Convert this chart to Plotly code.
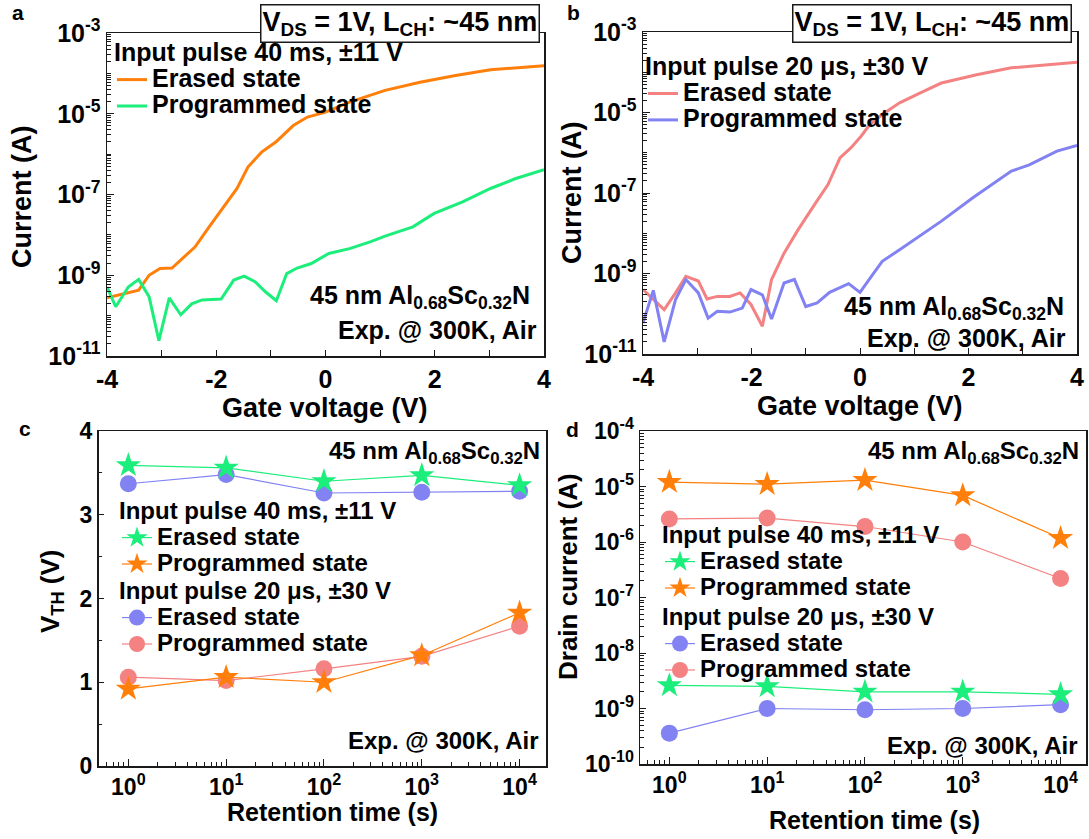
import plotly.graph_objects as go

W, H = 1089, 839

# ---------------- data ----------------
# panel a: 40 ms, +/-11 V pulses
a_vg_erased = [-4.00, -3.42, -3.23, -3.03, -2.81, -2.65, -2.39, -2.13, -1.87, -1.62, -1.42,
               -1.17, -0.91, -0.59, -0.33, 0.00, 0.44, 1.09, 1.73, 2.38, 3.02, 4.00]
a_id_erased = [2.75e-10, 4.27e-10, 1.0e-9, 1.48e-9, 1.51e-9, 2.34e-9, 5.0e-9, 1.58e-8, 4.9e-8,
               1.41e-7, 4.8e-7, 1.12e-6, 2.0e-6, 5.1e-6, 8.3e-6, 1.10e-5, 1.95e-5, 3.8e-5,
               6.0e-5, 8.9e-5, 1.23e-4, 1.55e-4]
a_vg_prog = [-4.00, -3.84, -3.61, -3.42, -3.23, -3.05, -2.86, -2.65, -2.45, -2.26, -1.91, -1.68,
             -1.49, -1.29, -1.10, -0.90, -0.71, -0.52, -0.26, 0.06, 0.44, 0.83, 1.09, 1.60,
             1.99, 2.51, 3.02, 3.47, 4.00]
a_id_prog = [5.1e-10, 1.66e-10, 5.1e-10, 7.9e-10, 2.95e-10, 2.4e-11, 2.75e-10, 1.05e-10, 1.95e-10,
             2.45e-10, 2.57e-10, 7.6e-10, 9.5e-10, 6.9e-10, 3.9e-10, 2.34e-10, 1.10e-9, 1.51e-9,
             1.95e-9, 3.47e-9, 4.57e-9, 6.8e-9, 9.3e-9, 1.58e-8, 3.4e-8, 6.6e-8, 1.41e-7,
             2.45e-7, 4.1e-7]

# panel b: 20 us, +/-30 V pulses
b_vg_erased = [-4.00, -3.61, -3.40, -3.21, -2.98, -2.82, -2.63, -2.40, -2.21, -2.01, -1.80, -1.63,
               -1.40, -1.14, -0.82, -0.59, -0.37, -0.17, 0.02, 0.18, 0.41, 0.73, 1.18, 1.50,
               2.15, 2.79, 4.00]
b_id_erased = [4.0e-10, 1.26e-10, 3.3e-10, 8.5e-10, 6.5e-10, 2.34e-10, 2.7e-10, 2.7e-10, 3.3e-10,
               1.7e-10, 4.9e-11, 7.1e-10, 3.2e-9, 1.23e-8, 5.6e-8, 1.62e-7, 7.4e-7, 1.32e-6,
               2.57e-6, 5.0e-6, 8.9e-6, 1.74e-5, 3.4e-5, 5.4e-5, 8.7e-5, 1.29e-4, 1.78e-4]
b_vg_prog = [-4.00, -3.81, -3.61, -3.40, -3.21, -2.98, -2.80, -2.63, -2.40, -2.17, -2.01, -1.80,
             -1.63, -1.40, -1.21, -1.00, -0.79, -0.56, -0.21, 0.00, 0.21, 0.41, 0.73, 1.18,
             1.50, 2.08, 2.47, 2.79, 3.12, 3.63, 4.00]
b_id_prog = [5.9e-11, 3.8e-10, 2.0e-11, 2.24e-10, 7.1e-10, 3.3e-10, 7.8e-11, 1.15e-10, 1.1e-10,
             1.38e-10, 4.0e-10, 2.95e-10, 7.4e-11, 5.8e-10, 7.1e-10, 1.51e-10, 1.86e-10, 3.4e-10,
             5.6e-10, 3.4e-10, 8.5e-10, 2.0e-9, 3.9e-9, 1.02e-8, 2.0e-8, 7.6e-8, 1.78e-7,
             3.5e-7, 5.0e-7, 1.10e-6, 1.51e-6]

# panels c, d: retention
ret_time = [1, 10, 100, 1000, 10000]
vth_40ms_erased = [3.59, 3.56, 3.40, 3.47, 3.35]
vth_40ms_prog = [0.92, 1.06, 1.00, 1.32, 1.83]
vth_20us_erased = [3.37, 3.48, 3.26, 3.27, 3.28]
vth_20us_prog = [1.06, 1.02, 1.16, 1.31, 1.67]

id_40ms_erased = [2.6e-9, 2.5e-9, 2.0e-9, 2.0e-9, 1.8e-9]
id_40ms_prog = [1.2e-5, 1.1e-5, 1.3e-5, 6.9e-6, 1.17e-6]
id_20us_erased = [3.6e-10, 1.0e-9, 0.95e-9, 1.0e-9, 1.17e-9]
id_20us_prog = [2.6e-6, 2.7e-6, 1.9e-6, 1.0e-6, 2.2e-7]

title_40ms = "Input pulse 40 ms, \u00b111 V"
title_20us = "Input pulse 20 \u03bcs, \u00b130 V"
name_erased = "Erased state"
name_prog = "Programmed state"
material = "45 nm Al<sub>0.68</sub>Sc<sub>0.32</sub>N"
cond = "Exp. @ 300K, Air"
bias_box = "V<sub>DS</sub> = 1V, L<sub>CH</sub>: ~45 nm"

vg_major = [-4, -2, 0, 2, 4]
vg_minor = [-3, -1, 1, 3]
exp_ab_major = [-11, -9, -7, -5, -3]
exp_d_major = [-10, -9, -8, -7, -6, -5, -4]
exp_t_major = [0, 1, 2, 3, 4]
vth_major = [0, 1, 2, 3, 4]

# ---------------- styling ----------------
ORANGE = "#FF7F0A"
GREEN = "#1CEE7C"
RED = "#F48282"
BLUE = "#8282F2"
AXC = "#1a1a1a"
FONT = "Liberation Sans, Arial, sans-serif"


def px(x):
    return x / W


def py(y):
    return 1 - y / H


def big(t, s):
    return '<span style="font-size:%dpx">%s</span>' % (s, t)


fig = go.Figure()

# panel a
fig.add_trace(go.Scatter(x=a_vg_erased, y=a_id_erased, mode="lines", name=big(name_erased, 25),
                         line=dict(color=ORANGE, width=3), xaxis="x", yaxis="y", legend="legend"))
fig.add_trace(go.Scatter(x=a_vg_prog, y=a_id_prog, mode="lines", name=big(name_prog, 25),
                         line=dict(color=GREEN, width=3), xaxis="x", yaxis="y", legend="legend"))
# panel b
fig.add_trace(go.Scatter(x=b_vg_erased, y=b_id_erased, mode="lines", name=big(name_erased, 25),
                         line=dict(color=RED, width=3), xaxis="x2", yaxis="y2", legend="legend2"))
fig.add_trace(go.Scatter(x=b_vg_prog, y=b_id_prog, mode="lines", name=big(name_prog, 25),
                         line=dict(color=BLUE, width=3), xaxis="x2", yaxis="y2", legend="legend2"))

# panels c and d
for ax_x, ax_y, lg1, lg2, e40, p40, e20, p20 in [
    ("x3", "y3", "legend3", "legend4", vth_40ms_erased, vth_40ms_prog, vth_20us_erased, vth_20us_prog),
    ("x4", "y4", "legend5", "legend6", id_40ms_erased, id_40ms_prog, id_20us_erased, id_20us_prog),
]:
    fig.add_trace(go.Scatter(x=ret_time, y=e20, mode="lines+markers", name=big(name_erased, 24),
                             line=dict(color=BLUE, width=1.2),
                             marker=dict(symbol="circle", size=17, color=BLUE),
                             xaxis=ax_x, yaxis=ax_y, legend=lg2))
    fig.add_trace(go.Scatter(x=ret_time, y=p20, mode="lines+markers", name=big(name_prog, 24),
                             line=dict(color=RED, width=1.2),
                             marker=dict(symbol="circle", size=17, color=RED),
                             xaxis=ax_x, yaxis=ax_y, legend=lg2))
    fig.add_trace(go.Scatter(x=ret_time, y=e40, mode="lines+markers", name=big(name_erased, 24),
                             line=dict(color=GREEN, width=1.2),
                             marker=dict(symbol="star", size=19, color=GREEN),
                             xaxis=ax_x, yaxis=ax_y, legend=lg1))
    fig.add_trace(go.Scatter(x=ret_time, y=p40, mode="lines+markers", name=big(name_prog, 24),
                             line=dict(color=ORANGE, width=1.2),
                             marker=dict(symbol="star", size=19, color=ORANGE),
                             xaxis=ax_x, yaxis=ax_y, legend=lg1))

# ---------------- axes ----------------
common = dict(showline=True, linecolor=AXC, linewidth=1.5, mirror=True, ticks="inside",
              tickcolor=AXC, tickwidth=1, showgrid=False, zeroline=False, automargin=False,
              tickfont=dict(family=FONT, size=25, color="black", weight="bold"))


def sup(e):
    return "10<sup>%d</sup>" % e


minor_ab = ([k * 10.0 ** e for e in range(-11, -3) for k in range(2, 10)]
            + [10.0 ** e for e in range(-10, -3, 2)])

for xa, ya, dx, dy in [("xaxis", "yaxis", (107, 544), (33, 356)),
                       ("xaxis2", "yaxis2", (643, 1077), (32, 354))]:
    fig.update_layout(**{
        xa: dict(common, domain=[px(dx[0]), px(dx[1])], range=[-4, 4], tickmode="array",
                 tickvals=vg_major, ticktext=[str(v) for v in vg_major], ticklen=6,
                 minor=dict(ticks="inside", ticklen=6, tickwidth=1, tickcolor=AXC,
                            tickmode="array", tickvals=vg_minor, showgrid=False),
                 anchor=ya.replace("axis", "")),
        ya: dict(common, domain=[py(dy[1]), py(dy[0])], type="log", range=[-11, -3],
                 tickmode="array", tickvals=[10.0 ** e for e in exp_ab_major],
                 ticktext=[sup(e) for e in exp_ab_major], ticklen=7,
                 minor=dict(ticks="inside", ticklen=4, tickwidth=1, tickcolor=AXC,
                            tickmode="array", tickvals=minor_ab, showgrid=False),
                 anchor=xa.replace("axis", "")),
    })

minor_t = [k * 10.0 ** e for e in range(-1, 5) for k in range(2, 10)]
cd_font = dict(family=FONT, size=23, color="black", weight="bold")

fig.update_layout(
    xaxis3=dict(common, domain=[px(98.5), px(546)], type="log", range=[-0.305, 4.27],
                tickmode="array", tickvals=[10 ** e for e in exp_t_major],
                ticktext=[sup(e) for e in exp_t_major], ticklen=7, tickfont=cd_font,
                minor=dict(ticks="inside", ticklen=4, tickwidth=1, tickcolor=AXC,
                           tickmode="array", tickvals=minor_t, showgrid=False),
                anchor="y3"),
    yaxis3=dict(common, domain=[py(766), py(431)], range=[0, 4], tickmode="array",
                tickvals=vth_major, ticktext=[str(v) for v in vth_major], ticklen=5,
                tickfont=cd_font,
                minor=dict(ticks="inside", ticklen=3, tickwidth=1, tickcolor=AXC, dtick=0.5,
                           showgrid=False),
                anchor="x3"),
    xaxis4=dict(common, domain=[px(640), px(1086)], type="log", range=[-0.30, 4.26],
                tickmode="array", tickvals=[10 ** e for e in exp_t_major],
                ticktext=[sup(e) for e in exp_t_major], ticklen=7, tickfont=cd_font,
                minor=dict(ticks="inside", ticklen=4, tickwidth=1, tickcolor=AXC,
                           tickmode="array", tickvals=minor_t, showgrid=False),
                anchor="y4"),
    yaxis4=dict(common, domain=[py(764), py(431)], type="log", range=[-10, -4],
                tickmode="array", tickvals=[10.0 ** e for e in exp_d_major],
                ticktext=[sup(e) for e in exp_d_major], ticklen=6,
                tickfont=cd_font,
                minor=dict(ticks="inside", ticklen=3.5, tickwidth=1, tickcolor=AXC,
                           tickmode="array",
                           tickvals=[k * 10.0 ** e for e in range(-10, -4) for k in range(2, 10)],
                           showgrid=False),
                anchor="x4"),
)

# ---------------- legends ----------------
def leg(x, y, title, size, tsize=18):
    return dict(x=px(x), y=py(y), xanchor="left", yanchor="top", bgcolor="rgba(0,0,0,0)",
                borderwidth=0, font=dict(family=FONT, size=18, color="black", weight="bold"),
                title=dict(text=big(title, size),
                           font=dict(family=FONT, size=tsize, color="black", weight="bold")),
                itemclick=False, tracegroupgap=0)


fig.update_layout(
    legend=leg(112, 38, title_40ms, 25),
    legend2=leg(643, 48, title_20us, 25, tsize=21),
    legend3=leg(117, 496, title_40ms, 24),
    legend4=leg(117, 576, title_20us, 24),
    legend5=leg(660, 520, title_40ms, 24),
    legend6=leg(660, 602, title_20us, 24),
)

# ---------------- annotations ----------------
ann = []


def text(x, y, t, size=24, xanchor="center", angle=0):
    ann.append(dict(x=px(x), y=py(y), xref="paper", yref="paper", text=t, showarrow=False,
                    xanchor=xanchor, yanchor="middle", textangle=angle,
                    font=dict(family=FONT, size=size, color="black", weight="bold")))


# panel letters
text(18, 13, "a", 21)
text(573, 13, "b", 21)
text(25, 428, "c", 21)
text(572, 429, "d", 21)

# axis titles
text(22, 197, "Current (A)", 27, angle=-90)
text(572, 193, "Current (A)", 27, angle=-90)
text(325, 408, "Gate voltage (V)", 27)
text(860, 406, "Gate voltage (V)", 27)
text(332, 812, "Retention time (s)", 25)
text(874, 820, "Retention time (s)", 25)
text(51, 592, "V<sub>TH</sub> (V)", 26, angle=-90)
text(568, 577, "Drain current (A)", 26, angle=-90)

# in-panel notes
text(532, 297, material, 25, xanchor="right")
text(539, 330, cond, 25, xanchor="right")
text(1066, 308, material, 25, xanchor="right")
text(1068, 338, cond, 25, xanchor="right")
text(542, 452, material, 24, xanchor="right")
text(541, 740, cond, 24, xanchor="right")
text(1081, 452, material, 24, xanchor="right")
text(1080, 745, cond, 24, xanchor="right")

# bias boxes
for xr in (540, 1072):
    ann.append(dict(x=px(xr), y=py(4), xref="paper", yref="paper", text=bias_box,
                    showarrow=False, xanchor="right", yanchor="top", bgcolor="white",
                    bordercolor=AXC, borderwidth=1.5, borderpad=1,
                    font=dict(family=FONT, size=27, color="black", weight="bold")))

fig.update_layout(annotations=ann, width=W, height=H, margin=dict(l=0, r=0, t=0, b=0),
                  paper_bgcolor="white", plot_bgcolor="white", showlegend=True)

fig.write_html("out.html", config={"staticPlot": True, "displayModeBar": False},
               post_script="document.body.style.margin='0';document.body.style.overflow='hidden';")
